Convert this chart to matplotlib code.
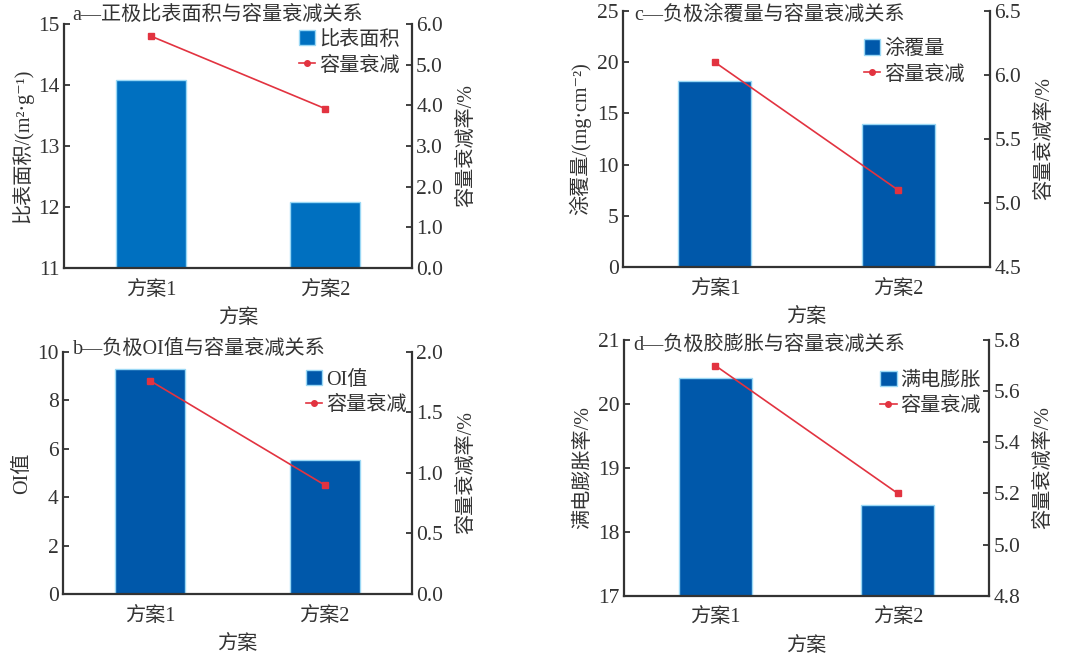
import matplotlib
matplotlib.use("Agg")
import matplotlib.pyplot as plt
from matplotlib.lines import Line2D
from matplotlib.patches import Patch
from matplotlib.transforms import offset_copy

plt.rcParams['font.family'] = ['Liberation Serif', 'Noto Sans CJK SC', 'DejaVu Sans']

categories = ['方案1', '方案2']

# panel a
a_bar = [14.08, 12.08]
a_line = [5.7, 3.92]
# panel b
b_bar = [9.3, 5.55]
b_line = [1.76, 0.9]
# panel c
c_bar = [18.2, 14.0]
c_line = [6.1, 5.1]
# panel d
d_bar = [20.4, 18.42]
d_line = [5.7, 5.2]

TXT = '#333333'
RED = '#E23340'
FS = 14.5
NFS = 15.5

fig = plt.figure(figsize=(10.8, 6.57), dpi=100)

panels = [
    dict(pos=[0.0593, 0.5921, 0.3222, 0.3714], bar=a_bar, line=a_line,
         color='#0070C0', ylim=(11, 15), yticks=[11, 12, 13, 14, 15],
         y2lim=(0, 6), y2ticks=[0, 1, 2, 3, 4, 5, 6],
         title='a—正极比表面积与容量衰减关系', tx=0.024, ty=9,
         ylabel='比表面积/(m²·g⁻¹)', barlab='比表面积',
         leg=(0.965, 0.975)),
    dict(pos=[0.5769, 0.5936, 0.3398, 0.3897], bar=c_bar, line=c_line,
         color='#0058AA', ylim=(0, 25), yticks=[0, 5, 10, 15, 20, 25],
         y2lim=(4.5, 6.5), y2ticks=[4.5, 5.0, 5.5, 6.0, 6.5],
         title='c—负极涂覆量与容量衰减关系', tx=0.03, ty=-4,
         ylabel='涂覆量/(mg·cm⁻²)', barlab='涂覆量',
         leg=(0.93, 0.89)),
    dict(pos=[0.0583, 0.0959, 0.3231, 0.3688], bar=b_bar, line=b_line,
         color='#0058AA', ylim=(0, 10), yticks=[0, 2, 4, 6, 8, 10],
         y2lim=(0, 2), y2ticks=[0, 0.5, 1.0, 1.5, 2.0],
         title='b—负极OI值与容量衰减关系', tx=0.03, ty=2,
         ylabel='OI值', barlab='OI值',
         leg=(0.985, 0.925)),
    dict(pos=[0.5778, 0.0933, 0.3380, 0.3892], bar=d_bar, line=d_line,
         color='#0058AA', ylim=(17, 21), yticks=[17, 18, 19, 20, 21],
         y2lim=(4.8, 5.8), y2ticks=[4.8, 5.0, 5.2, 5.4, 5.6, 5.8],
         title='d—负极胶膨胀与容量衰减关系', tx=0.025, ty=-5,
         ylabel='满电膨胀率/%', barlab='满电膨胀',
         leg=(0.978, 0.88)),
]

x = list(range(len(categories)))

for p in panels:
    ax = fig.add_axes(p['pos'])
    ax.bar(x, p['bar'], width=0.4, color=p['color'], edgecolor='#9AD8F5',
           linewidth=1.0, zorder=2)
    ax.set_xlim(-0.5, 1.5)
    ax.set_ylim(*p['ylim'])
    ax.set_yticks(p['yticks'])
    ax.set_xticks(x)
    ax.set_xticklabels(categories, fontsize=FS, color=TXT)
    ax.tick_params(axis='x', length=0, pad=9)
    ax.tick_params(axis='y', direction='in', length=4, width=1.3, colors=TXT,
                   labelsize=NFS, pad=3)
    for s in ['left', 'bottom']:
        ax.spines[s].set_linewidth(1.6)
        ax.spines[s].set_color(TXT)
    ax.spines['top'].set_visible(False)
    ax.spines['right'].set_visible(False)
    ax.set_xlabel('方案', fontsize=FS, color=TXT, labelpad=7)
    ax.set_ylabel(p['ylabel'], fontsize=FS, color=TXT, labelpad=4)

    ax2 = ax.twinx()
    ax2.plot(x, p['line'], color=RED, linewidth=1.2, marker='s', markersize=4,
             zorder=3)
    ax2.set_ylim(*p['y2lim'])
    ax2.set_yticks(p['y2ticks'])
    ax2.set_yticklabels(['%.1f' % v for v in p['y2ticks']])
    ax2.tick_params(axis='y', direction='in', length=4, width=1.3, colors=TXT,
                    labelsize=NFS, pad=3)
    ax2.spines['right'].set_linewidth(1.6)
    ax2.spines['right'].set_color(TXT)
    ax2.spines['top'].set_visible(False)
    ax2.spines['left'].set_visible(False)
    ax2.spines['bottom'].set_visible(False)
    ax2.set_ylabel('容量衰减率/%', fontsize=FS, color=TXT, labelpad=10)

    tr = offset_copy(ax.transAxes, fig=fig, x=0, y=p['ty'], units='dots')
    ax2.text(p['tx'], 1.0, p['title'], transform=tr, fontsize=FS,
             color=TXT, ha='left', va='center')

    handles = [Patch(facecolor=p['color'], edgecolor='#9AD8F5'),
               Line2D([0], [0], color=RED, linewidth=1.2, marker='o', markersize=4)]
    ax2.legend(handles, [p['barlab'], '容量衰减'], loc='upper right',
               bbox_to_anchor=p['leg'], frameon=False, fontsize=FS,
               handlelength=0.8, handleheight=0.8, handletextpad=0.2,
               labelspacing=0.3, borderaxespad=0, borderpad=0,
               labelcolor=TXT)

fig.savefig('out.png', dpi=100)
